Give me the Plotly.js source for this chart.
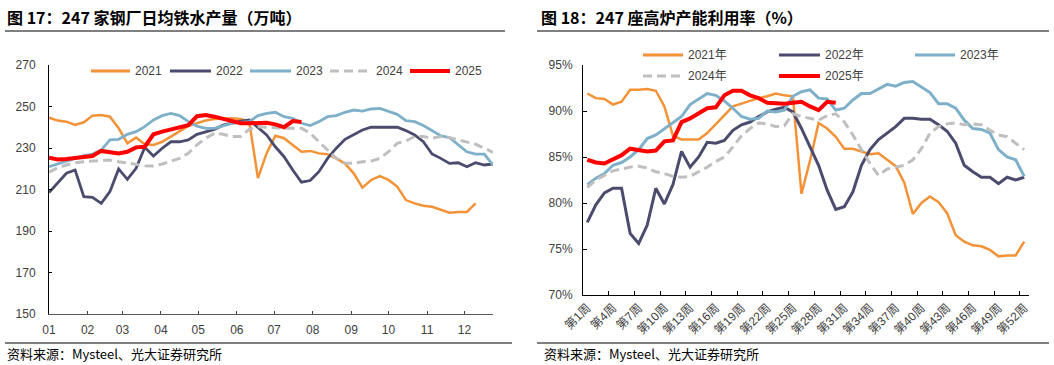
<!DOCTYPE html>
<html>
<head>
<meta charset="utf-8">
<script src="https://cdn.plot.ly/plotly-3.0.1.min.js"></script>
<style>
html,body{margin:0;padding:0;background:#fff;}
#chart{width:1054px;height:365px;}
</style>
</head>
<body>
<div id="chart"></div>
<script>
// ---------- Left chart: 247 家钢厂日均铁水产量（万吨）, weekly ----------
const leftSeriesNames = ['2021', '2022', '2023', '2024', '2025'];
const iron2021 = [244.6,243.2,242.7,241.1,242.4,245.6,245.9,245.1,239.5,232.3,235.0,231.8,231.5,233.0,235.5,238.2,240.6,241.9,243.3,244.0,244.3,244.3,244.0,242.7,215.5,227.5,235.9,234.7,231.5,228.2,228.6,227.4,227.0,225.0,222.5,217.8,210.9,214.6,216.5,214.6,211.4,204.9,203.3,202.2,201.7,200.4,198.8,199.2,199.2,203.3];
const iron2022 = [208.5,213.0,217.8,219.4,206.5,206.2,203.3,209.0,219.9,214.9,220.2,230.3,226.1,229.9,233.0,233.0,233.9,236.6,237.9,239.0,241.0,242.0,243.0,243.5,240.0,236.3,230.6,225.8,219.4,213.5,214.3,218.6,225.0,229.9,234.2,236.3,238.7,240.0,240.1,240.0,240.0,238.4,236.3,233.0,227.1,225.0,222.6,222.9,221.0,222.9,221.8,222.3];
const iron2023 = [221.0,222.3,223.4,225.0,226.3,227.1,229.0,233.9,234.2,236.6,237.9,240.3,243.5,245.6,246.7,245.6,242.7,240.5,239.5,239.5,240.6,241.9,242.4,242.7,245.6,246.7,247.2,245.1,244.3,241.9,240.8,242.7,245.1,245.6,247.2,248.3,247.8,248.8,249.1,247.8,246.2,243.2,242.7,240.8,238.2,235.9,235.0,231.8,228.2,227.0,227.0,221.8];
const iron2024 = [218.3,220.5,221.8,222.9,223.4,223.7,224.2,224.2,223.4,222.6,222.1,221.5,221.3,222.3,223.7,225.0,227.4,231.5,234.7,237.1,236.6,235.5,235.5,239.0,240.3,240.0,239.8,239.5,239.5,239.5,237.1,233.0,229.0,225.0,222.6,222.6,223.4,223.7,225.0,228.2,232.3,233.4,235.5,235.5,234.7,235.5,235.0,233.9,232.7,231.8,229.9,227.9];
const iron2025 = [225.3,224.5,224.7,225.3,225.8,226.1,228.6,227.9,227.4,228.2,230.3,230.6,236.6,237.9,239.0,240.3,241.0,245.3,245.9,245.1,244.0,242.7,241.9,241.9,241.9,242.2,241.4,240.0,243.0,242.5];
const leftYTicks = [150, 170, 190, 210, 230, 250, 270];

// ---------- Right chart: 247 座高炉产能利用率（%）, weekly ----------
const rightSeriesNames = ['2021年', '2022年', '2023年', '2024年', '2025年'];
const weekLabels = ['第1周','第2周','第3周','第4周','第5周','第6周','第7周','第8周','第9周','第10周','第11周','第12周','第13周','第14周','第15周','第16周','第17周','第18周','第19周','第20周','第21周','第22周','第23周','第24周','第25周','第26周','第27周','第28周','第29周','第30周','第31周','第32周','第33周','第34周','第35周','第36周','第37周','第38周','第39周','第40周','第41周','第42周','第43周','第44周','第45周','第46周','第47周','第48周','第49周','第50周','第51周','第52周'];
const util2021 = [91.9,91.4,91.3,90.7,91.0,92.3,92.3,92.4,92.2,90.5,87.3,86.9,86.9,86.9,87.6,88.6,89.6,90.5,90.8,91.1,91.4,91.6,91.9,91.7,91.6,81.0,84.6,88.7,88.1,87.2,85.9,85.9,85.6,85.3,85.4,84.7,84.0,82.2,78.8,80.0,80.7,80.1,78.9,76.5,75.8,75.4,75.3,74.9,74.2,74.3,74.3,75.8];
const util2022 = [77.9,79.8,81.1,81.6,81.6,76.7,75.6,77.6,81.6,79.9,82.0,85.6,83.9,85.0,86.6,86.5,86.8,87.9,88.5,88.8,89.4,89.9,90.2,90.4,89.9,88.1,86.1,84.1,81.4,79.3,79.6,81.2,84.1,85.8,86.9,87.6,88.3,89.2,89.2,89.1,89.1,88.5,87.8,86.5,84.1,83.4,82.8,82.8,82.1,82.8,82.5,82.8];
const util2023 = [82.0,82.7,83.2,84.1,84.4,85.0,85.8,87.0,87.4,88.1,88.7,89.4,90.7,91.3,91.9,91.7,91.1,90.3,89.4,89.1,89.2,90.0,89.9,90.1,91.6,92.1,92.3,91.4,91.3,90.1,90.3,91.2,91.9,91.9,92.4,92.9,92.7,93.1,93.2,92.6,92.0,90.8,90.8,90.3,89.0,88.1,88.0,87.6,85.8,85.0,84.7,82.9];
const util2024 = [81.7,82.5,83.0,83.5,83.7,83.9,84.0,83.8,83.4,83.2,82.9,82.8,82.9,83.4,83.9,84.5,85.0,86.1,87.3,88.1,88.7,88.6,88.3,88.4,89.7,89.4,89.2,89.0,89.5,89.7,88.8,87.4,85.8,84.3,83.0,83.7,83.9,84.1,84.7,85.9,87.6,88.3,88.6,88.7,88.5,88.6,88.5,87.9,87.4,87.2,86.5,85.8];
const util2025 = [84.7,84.4,84.3,84.7,85.2,85.9,85.8,85.6,85.7,86.7,86.8,88.8,89.2,89.7,90.3,90.4,91.7,92.2,92.2,91.7,91.4,90.9,90.8,90.8,90.9,91.0,90.5,90.1,91.0,90.9];
const rightYTicks = [70, 75, 80, 85, 90, 95];

// ---------- styling ----------
const colors = ['#F39237', '#4B4B6D', '#7FB0C9', '#BFBFBF', '#FF0000'];
const leftWidths = [2.5, 2.8, 2.8, 3, 4];
const rightWidths = [2.5, 3, 3, 3, 4];
const dashes = ['solid', 'solid', 'solid', '9px,5px', 'solid'];
const W = 1054, H = 365;
const px = v => v / W;
const py = v => 1 - v / H;

// legend placement (pixels): [lineStart, lineEnd, y]
const leftLegendPos = [[91, 130, 71], [170, 211, 71], [250, 291, 71], [330, 371, 71], [410, 450, 71]];
const rightLegendPos = [[643, 683, 55], [779, 820, 55], [915, 955, 55], [643, 683, 76], [779, 820, 76]];

// weekly dates for the left date axis (dummy year)
function weekDates(n) {
  const out = [];
  for (let i = 0; i < n; i++) {
    out.push(new Date(Date.UTC(2021, 0, 1 + 7 * i)).toISOString().slice(0, 10));
  }
  return out;
}

const leftData = [iron2021, iron2022, iron2023, iron2024, iron2025];
const rightData = [util2021, util2022, util2023, util2024, util2025];

const traces = [];
leftData.forEach((ys, k) => {
  traces.push({
    type: 'scatter', mode: 'lines', name: leftSeriesNames[k], showlegend: false,
    x: weekDates(ys.length), y: ys, xaxis: 'x', yaxis: 'y',
    line: {color: colors[k], width: leftWidths[k], dash: dashes[k]},
    hoverinfo: 'skip'
  });
});
rightData.forEach((ys, k) => {
  traces.push({
    type: 'scatter', mode: 'lines', name: rightSeriesNames[k], showlegend: false,
    x: weekLabels.slice(0, ys.length), y: ys, xaxis: 'x2', yaxis: 'y2',
    line: {color: colors[k], width: rightWidths[k], dash: dashes[k]},
    hoverinfo: 'skip'
  });
});

const numFont = 'Liberation Sans, Arial, Noto Sans CJK SC, sans-serif';
const tickFont = {family: numFont, size: 12, color: '#404040'};
const cjk = 'Noto Sans CJK SC, Liberation Sans, sans-serif';

const shapes = [
  {type: 'line', xref: 'paper', yref: 'paper', x0: px(5), x1: px(505), y0: py(31), y1: py(31), line: {color: '#000', width: 1.2}},
  {type: 'line', xref: 'paper', yref: 'paper', x0: px(537), x1: px(1049), y0: py(31), y1: py(31), line: {color: '#000', width: 1.2}},
  {type: 'line', xref: 'paper', yref: 'paper', x0: px(5), x1: px(512), y0: py(343), y1: py(343), line: {color: '#000', width: 1.2}},
  {type: 'line', xref: 'paper', yref: 'paper', x0: px(537), x1: px(1049), y0: py(343), y1: py(343), line: {color: '#000', width: 1.2}}
];
const annotations = [
  {xref: 'paper', yref: 'paper', x: px(5), y: py(17), xanchor: 'left', yanchor: 'middle', showarrow: false,
   text: '<b>图 17：247 家钢厂日均铁水产量（万吨）</b>', font: {family: cjk, size: 16, color: '#000'}},
  {xref: 'paper', yref: 'paper', x: px(539), y: py(17), xanchor: 'left', yanchor: 'middle', showarrow: false,
   text: '<b>图 18：247 座高炉产能利用率（%）</b>', font: {family: cjk, size: 16, color: '#000'}},
  {xref: 'paper', yref: 'paper', x: px(5), y: py(353), xanchor: 'left', yanchor: 'middle', showarrow: false,
   text: '资料来源：Mysteel、光大证券研究所', font: {family: cjk, size: 13, color: '#000'}},
  {xref: 'paper', yref: 'paper', x: px(542), y: py(353), xanchor: 'left', yanchor: 'middle', showarrow: false,
   text: '资料来源：Mysteel、光大证券研究所', font: {family: cjk, size: 13, color: '#000'}}
];

// manual legends (line sample + label), one per series
function addLegend(names, pos, widths) {
  names.forEach((nm, k) => {
    const [x0, x1, y] = pos[k];
    shapes.push({type: 'line', xref: 'paper', yref: 'paper', x0: px(x0), x1: px(x1), y0: py(y), y1: py(y),
      line: {color: colors[k], width: Math.max(widths[k], 3), dash: dashes[k]}});
    annotations.push({xref: 'paper', yref: 'paper', x: px(x1 + 3), y: py(y), xanchor: 'left', yanchor: 'middle',
      showarrow: false, text: nm, font: {family: numFont, size: 12, color: '#404040'}});
  });
}
addLegend(leftSeriesNames, leftLegendPos, leftWidths);
addLegend(rightSeriesNames, rightLegendPos, rightWidths);

const layout = {
  width: W, height: H,
  margin: {l: 0, r: 0, t: 0, b: 0},
  paper_bgcolor: '#fff', plot_bgcolor: '#fff',
  showlegend: false,
  xaxis: {
    type: 'date', domain: [px(49), px(493)], range: ['2021-01-01', '2021-12-24'],
    tickformat: '%m', dtick: 'M1', tick0: '2021-01-01',
    ticks: 'inside', ticklen: 3, tickcolor: '#404040', tickwidth: 1,
    showline: true, linecolor: '#595959', linewidth: 1,
    showgrid: false, zeroline: false, tickfont: tickFont, ticklabelstandoff: 5,
    anchor: 'y', fixedrange: true
  },
  yaxis: {
    domain: [py(314), py(65)], range: [150, 270], tickvals: leftYTicks,
    ticks: 'inside', ticklen: 3, tickcolor: '#000', showline: true, linecolor: '#000', linewidth: 1,
    showgrid: false, zeroline: false, tickfont: tickFont, ticklabelstandoff: 10,
    anchor: 'x', fixedrange: true
  },
  xaxis2: {
    type: 'category', domain: [px(583), px(1028.5)], range: [-0.5, 51.5],
    categoryorder: 'array', categoryarray: weekLabels,
    dtick: 3, tick0: 0, tickson: 'boundaries', tickangle: -45,
    ticks: 'inside', ticklen: 4, tickcolor: '#000',
    showline: true, linecolor: '#000', linewidth: 1,
    showgrid: false, zeroline: false, tickfont: tickFont,
    anchor: 'y2', fixedrange: true
  },
  yaxis2: {
    domain: [py(295), py(65)], range: [70, 95], tickvals: rightYTicks,
    ticktext: rightYTicks.map(v => v + '%'),
    ticks: 'inside', ticklen: 4, tickcolor: '#000', showline: true, linecolor: '#000', linewidth: 1,
    showgrid: false, zeroline: false, tickfont: tickFont, ticklabelstandoff: 7,
    anchor: 'x2', fixedrange: true
  },
  shapes: shapes,
  annotations: annotations
};

Plotly.newPlot('chart', traces, layout, {displayModeBar: false, staticPlot: true});
</script>
</body>
</html>
